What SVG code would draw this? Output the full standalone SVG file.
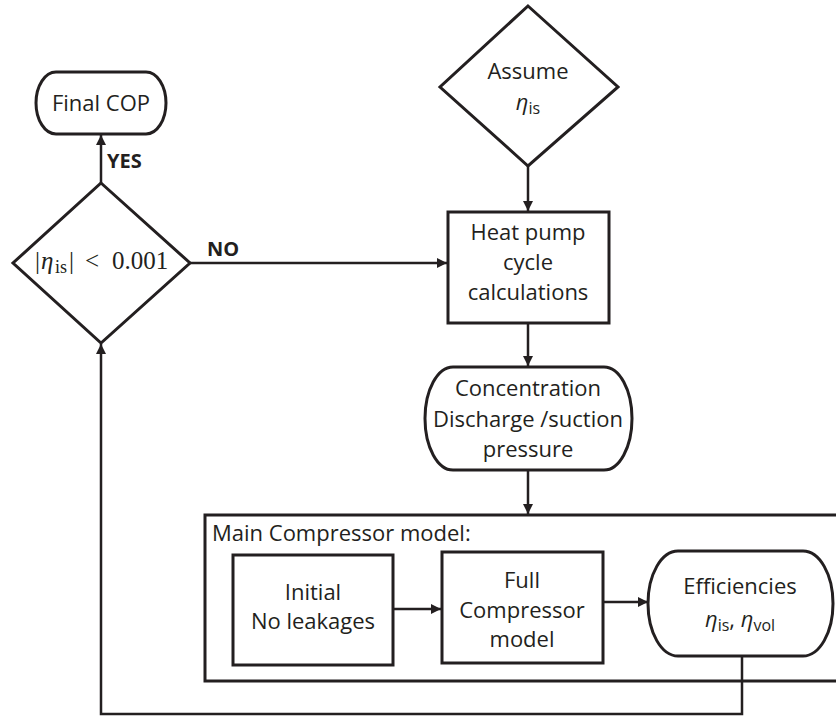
<svg xmlns="http://www.w3.org/2000/svg" width="836" height="716" viewBox="0 0 836 716">
<defs>
<style>
.shape{fill:#fff;stroke:#231f20;stroke-width:3}
.frame{fill:none;stroke:#231f20;stroke-width:3}
.line{fill:none;stroke:#231f20;stroke-width:2.5}
.t{font-family:"Open Sans","Liberation Sans",sans-serif;font-size:22px;fill:#231f20;text-anchor:middle}
.b{font-family:"Open Sans","Liberation Sans",sans-serif;font-size:20px;font-weight:bold;fill:#231f20}
.m{font-family:"Liberation Serif","DejaVu Serif",serif;font-size:25px;fill:#231f20}
.sub{font-size:16px}
.msub{font-size:18px}
</style>
<marker id="arr" markerUnits="userSpaceOnUse" markerWidth="10" markerHeight="10" refX="10" refY="5" orient="auto">
<path d="M0,0 L10,5 L0,10 z" fill="#231f20"/>
</marker>
</defs>
<rect width="836" height="716" fill="#fff"/>

<g id="connectors">
<path class="line" d="M101,183 V135" marker-end="url(#arr)"/>
<path class="line" d="M190,263 H447" marker-end="url(#arr)"/>
<path class="line" d="M528,166 V211" marker-end="url(#arr)"/>
<path class="line" d="M528,323 V366" marker-end="url(#arr)"/>
<path class="line" d="M528,470 V514" marker-end="url(#arr)"/>
<path class="line" d="M393,609 H441" marker-end="url(#arr)"/>
<path class="line" d="M603,602 H648" marker-end="url(#arr)"/>
<path class="line" d="M742,656 V714 H101 V344" marker-end="url(#arr)"/>
</g>

<g id="main-compressor-model">
<rect class="frame" x="205" y="515" width="700" height="166"/>
<text class="t" x="212" y="541" style="text-anchor:start">Main Compressor model:</text>
</g>

<g id="final-cop">
<path class="shape" d="M56,72 H146 A20,31 0 0 1 146,134 H56 A20,31 0 0 1 56,72 Z"/>
<text class="t" x="101" y="111">Final COP</text>
</g>
<text class="b" x="107" y="168">YES</text>

<g id="decision">
<path class="shape" d="M101,183 L190,263 L101,343 L13,263 Z"/>
<text class="m" y="269"><tspan x="35">|</tspan><tspan x="41" font-style="italic">η</tspan><tspan x="55" dy="4" class="msub">is</tspan><tspan x="69" dy="-4">|</tspan><tspan x="85">&lt;</tspan><tspan x="112">0.001</tspan></text>
</g>
<text class="b" x="207" y="256">NO</text>

<g id="assume">
<path class="shape" d="M528,6 L618,87 L528,166 L440,87 Z"/>
<text class="t" x="528" y="79">Assume</text>
<text class="t" x="528" y="110"><tspan font-style="italic">η</tspan><tspan class="sub" dy="4">is</tspan></text>
</g>

<g id="heat-pump">
<rect class="shape" x="448" y="212" width="161" height="111"/>
<text class="t" x="528" y="240">Heat pump</text>
<text class="t" x="528" y="270">cycle</text>
<text class="t" x="528" y="300">calculations</text>
</g>

<g id="concentration">
<path class="shape" d="M453,367 H604 A28,51.5 0 0 1 604,470 H453 A28,51.5 0 0 1 453,367 Z"/>
<text class="t" x="528" y="396">Concentration</text>
<text class="t" x="528" y="427">Discharge /suction</text>
<text class="t" x="528" y="457">pressure</text>
</g>

<g id="initial">
<rect class="shape" x="233" y="555" width="160" height="110"/>
<text class="t" x="313" y="600">Initial</text>
<text class="t" x="313" y="629">No leakages</text>
</g>

<g id="full-compressor">
<rect class="shape" x="442" y="552" width="161" height="111"/>
<text class="t" x="522" y="588">Full</text>
<text class="t" x="522" y="618">Compressor</text>
<text class="t" x="522" y="647">model</text>
</g>

<g id="efficiencies">
<path class="shape" d="M678,551 H803 A30,52.5 0 0 1 803,656 H678 A30,52.5 0 0 1 678,551 Z"/>
<text class="t" x="740" y="594">Efficiencies</text>
<text class="t" x="740" y="627"><tspan font-style="italic">η</tspan><tspan class="sub" dy="4">is</tspan><tspan dy="-4">, </tspan><tspan font-style="italic">η</tspan><tspan class="sub" dy="4">vol</tspan></text>
</g>
</svg>
